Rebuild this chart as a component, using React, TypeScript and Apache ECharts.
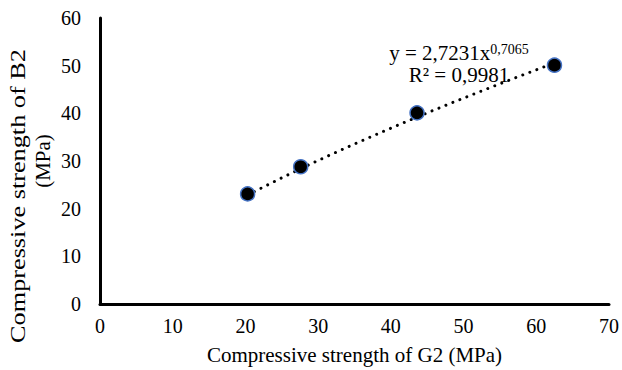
import React, { useEffect, useRef } from "react";
import * as echarts from "echarts";

// Measured compressive strengths (MPa)
const g2Strength = [20.3, 27.6, 43.6, 62.5];
const b2Strength = [23.1, 28.8, 40.1, 50.1];

// Power trend line y = a * x^b, as reported in the chart label
const fitCoef = 2.7231;
const fitExp = 0.7065;
const fitR2 = "0,9981";
const fitSamples = 60;

const xAxisRange = { min: 0, max: 70, interval: 10 };
const yAxisRange = { min: 0, max: 60, interval: 10 };

const xTitle = "Compressive strength of G2 (MPa)";
const yTitleLines = ["Compressive strength of B2", "(MPa)"];

const FONT = "'Liberation Serif', 'Times New Roman', serif";

function buildTrend(): number[][] {
  const lo = Math.min(...g2Strength);
  const hi = Math.max(...g2Strength);
  const pts: number[][] = [];
  for (let i = 0; i <= fitSamples; i++) {
    const x = lo + ((hi - lo) * i) / fitSamples;
    pts.push([x, fitCoef * Math.pow(x, fitExp)]);
  }
  return pts;
}

export default function App() {
  const ref = useRef<HTMLDivElement>(null);

  useEffect(() => {
    if (!ref.current) return;
    const chart = echarts.init(ref.current, undefined, { renderer: "svg" });
    const scatterData = g2Strength.map((x, i) => [x, b2Strength[i]]);
    const coefText = fitCoef.toFixed(4).replace(".", ",");
    const expText = fitExp.toFixed(4).replace(".", ",");

    chart.setOption({
      animation: false,
      backgroundColor: "#ffffff",
      textStyle: { fontFamily: FONT, color: "#000" },
      grid: { left: 100, right: 13, top: 18, bottom: 63 },
      xAxis: {
        type: "value",
        ...xAxisRange,
        name: xTitle,
        nameLocation: "middle",
        nameGap: 40,
        nameTextStyle: { fontFamily: FONT, fontSize: 21, color: "#000" },
        axisLine: { show: true, lineStyle: { color: "#000", width: 3 } },
        axisTick: { show: false },
        splitLine: { show: false },
        axisLabel: { fontFamily: FONT, fontSize: 20, color: "#000", margin: 12 },
      },
      yAxis: {
        type: "value",
        ...yAxisRange,
        axisLine: { show: true, lineStyle: { color: "#000", width: 3 } },
        axisTick: { show: false },
        splitLine: { show: false },
        axisLabel: { fontFamily: FONT, fontSize: 20, color: "#000", margin: 19 },
      },
      graphic: [
        {
          type: "text",
          x: 18,
          y: 196,
          rotation: Math.PI / 2,
          scaleX: 1.25,
          style: {
            text: yTitleLines[0],
            align: "center",
            verticalAlign: "middle",
            fontFamily: FONT,
            fontSize: 21,
            fill: "#000",
          },
        },
        {
          type: "text",
          x: 43,
          y: 161,
          rotation: Math.PI / 2,
          style: {
            text: yTitleLines[1],
            align: "center",
            verticalAlign: "middle",
            fontFamily: FONT,
            fontSize: 21,
            fill: "#000",
          },
        },
        {
          type: "text",
          x: 459,
          y: 64,
          style: {
            text: `{b|y = ${coefText}x}{s|${expText}}\n{b|R² = ${fitR2}}`,
            align: "center",
            verticalAlign: "middle",
            fontFamily: FONT,
            fill: "#000",
            rich: {
              b: { fontFamily: FONT, fontSize: 21, lineHeight: 22, fill: "#000" },
              s: { fontFamily: FONT, fontSize: 14, lineHeight: 22, verticalAlign: "top", fill: "#000" },
            },
          },
          z: 10,
        },
      ],
      series: [
        {
          type: "line",
          data: buildTrend(),
          showSymbol: false,
          symbol: "none",
          smooth: false,
          lineStyle: { color: "#000", width: 3, type: [0.01, 7.5], cap: "round" },
          z: 2,
          silent: true,
        },
        {
          type: "scatter",
          data: scatterData,
          symbol: "circle",
          symbolSize: 14,
          itemStyle: { color: "#000", borderColor: "#4472C4", borderWidth: 1.5, opacity: 1 },
          z: 3,
        },
      ],
    });
    return () => chart.dispose();
  }, []);

  return (
    <div
      ref={ref}
      style={{ position: "absolute", left: 0, top: 0, width: 622, height: 370 }}
    />
  );
}
